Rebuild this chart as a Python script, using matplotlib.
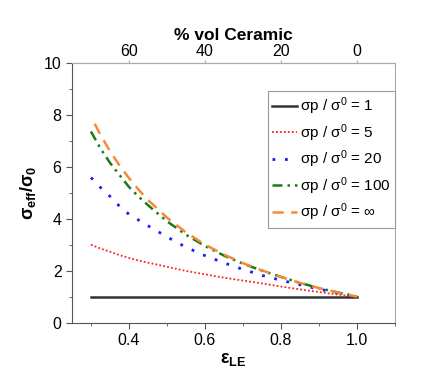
import matplotlib
matplotlib.use("Agg")
import matplotlib.pyplot as plt
from matplotlib.ticker import MultipleLocator

plt.rcParams['font.family'] = ['Liberation Sans', 'DejaVu Sans']
plt.rcParams['mathtext.fontset'] = 'custom'
plt.rcParams['mathtext.rm'] = 'Liberation Sans'
plt.rcParams['mathtext.it'] = 'Liberation Sans'
plt.rcParams['mathtext.bf'] = 'Liberation Sans:bold'
plt.rcParams['mathtext.default'] = 'regular'

# valores
eps = [0.30, 0.325, 0.35, 0.375, 0.40, 0.425, 0.45, 0.50, 0.55, 0.60,
       0.65, 0.70, 0.75, 0.80, 0.85, 0.90, 0.95, 1.00]
r1 = [1.0] * len(eps)
r5 = [3.00, 2.85, 2.73, 2.60, 2.49, 2.39, 2.31, 2.15, 1.99, 1.86,
      1.73, 1.62, 1.51, 1.39, 1.28, 1.18, 1.08, 1.0]
r20 = [5.58, 5.20, 4.86, 4.48, 4.17, 3.95, 3.73, 3.30, 2.90, 2.58,
       2.30, 2.05, 1.82, 1.63, 1.46, 1.29, 1.14, 1.0]
r100 = [7.35, 6.70, 6.15, 5.68, 5.22, 4.85, 4.52, 3.90, 3.38, 2.95,
        2.58, 2.27, 2.00, 1.76, 1.53, 1.33, 1.16, 1.0]
eps_inf = [0.31, 0.325, 0.35, 0.375, 0.40, 0.425, 0.45, 0.50, 0.55, 0.60,
           0.65, 0.70, 0.75, 0.80, 0.85, 0.90, 0.95, 1.00]
rinf = [7.65, 7.22, 6.60, 6.05, 5.56, 5.12, 4.72, 4.04, 3.47, 3.00,
        2.62, 2.29, 2.01, 1.76, 1.53, 1.33, 1.16, 1.0]
labels = ['σp / σ$^0$ = 1', 'σp / σ$^0$ = 5', 'σp / σ$^0$ = 20',
          'σp / σ$^0$ = 100', 'σp / σ$^0$ = ∞']

fig = plt.figure(figsize=(4.36, 3.75), dpi=100)
ax = fig.add_axes([0.165, 0.1395, 0.741, 0.6935])

ax.plot(eps, r1, color='#333333', lw=1.8, ls='-', label=labels[0])
ax.plot(eps, r5, color='#ff2020', lw=1.3, ls=(0, (1, 1.2)), label=labels[1])
ax.plot(eps, r20, color='#1a1aff', lw=2.0, ls=(0, (1, 3.5)), label=labels[2])
ax.plot(eps, r100, color='#1a7a1a', lw=1.8, ls=(0, (4, 2, 1, 2, 1, 2)), label=labels[3])
ax.plot(eps_inf, rinf, color='#f58a35', lw=1.8, ls=(0, (4.5, 3)), label=labels[4])

ax.set_xlim(0.25, 1.1)
ax.set_ylim(0, 10)
ax.xaxis.set_major_locator(MultipleLocator(0.2))
ax.xaxis.set_minor_locator(MultipleLocator(0.1))
ax.yaxis.set_major_locator(MultipleLocator(2))
ax.yaxis.set_minor_locator(MultipleLocator(1))
ax.set_xticks([0.4, 0.6, 0.8, 1.0])
ax.tick_params(which='both', direction='out', labelsize=11.5, color='#555555')
ax.tick_params(which='major', length=4)
ax.tick_params(which='minor', length=2.5)

ax.spines['left'].set_color('#555555')
ax.spines['bottom'].set_color('#555555')
ax.spines['top'].set_color('#aaaaaa')
ax.spines['right'].set_color('#aaaaaa')

ax.set_xlabel(r'$\mathbf{\epsilon_{LE}}$', fontsize=13, labelpad=2)
ax.set_ylabel(r'$\mathbf{\sigma_{eff}/\sigma_0}$', fontsize=13, labelpad=4)

top = ax.secondary_xaxis('top', functions=(lambda e: 100 * (1 - e), lambda v: 1 - v / 100))
top.set_xticks([60, 40, 20, 0])
top.tick_params(direction='out', length=2.5, labelsize=11.5, color='#aaaaaa', pad=0)
top.spines['top'].set_color('#aaaaaa')
top.set_xlabel('% vol Ceramic', fontsize=12.5, fontweight='bold', labelpad=3)

leg = ax.legend(loc='upper right', bbox_to_anchor=(1.0, 0.892), fontsize=11,
                frameon=True, fancybox=False, framealpha=1, edgecolor='#999999',
                handlelength=1.6, handletextpad=0.2, labelspacing=0.33,
                borderpad=0.3, borderaxespad=0)
leg.get_frame().set_linewidth(0.8)

plt.savefig('out.png', dpi=100)
